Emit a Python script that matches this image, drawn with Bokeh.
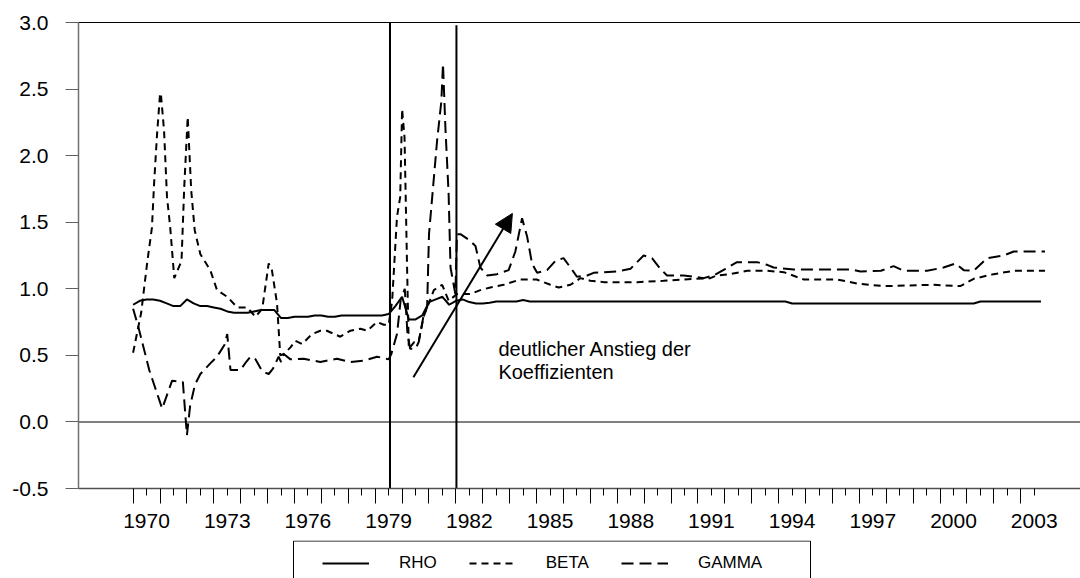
from bokeh.plotting import figure
from bokeh.layouts import column
from bokeh.models import (FixedTicker, LinearAxis, Range1d, Arrow, NormalHead,
                          Legend, LegendItem)
from bokeh.core.properties import value
from bokeh.embed import file_html
from bokeh.resources import INLINE

FONT = "Liberation Sans"

# ---------------- data ----------------
# RHO: quarterly, 1970Q1 .. 2003Q4
rho_v = [
    0.88, 0.91, 0.92, 0.92,   # 1970
    0.91, 0.89, 0.87, 0.87,   # 1971
    0.92, 0.89, 0.87, 0.87,   # 1972
    0.86, 0.85, 0.83, 0.82,   # 1973
    0.82, 0.82, 0.83, 0.84,   # 1974
    0.84, 0.84, 0.78, 0.78,   # 1975
    0.79, 0.79, 0.79, 0.80,   # 1976
    0.80, 0.79, 0.79, 0.80,   # 1977
    0.80, 0.80, 0.80, 0.80,   # 1978
    0.80, 0.80, 0.81, 0.87,   # 1979
    0.94, 0.77, 0.77, 0.80,   # 1980
    0.90, 0.92, 0.94, 0.88,   # 1981
    0.91, 0.92, 0.90, 0.89,   # 1982
    0.89, 0.895, 0.905, 0.905,  # 1983
    0.905, 0.905, 0.915, 0.905,  # 1984
    0.905, 0.905, 0.905, 0.905,  # 1985
    0.905, 0.905, 0.905, 0.905,  # 1986
    0.905, 0.905, 0.905, 0.905,  # 1987
    0.905, 0.905, 0.905, 0.905,  # 1988
    0.905, 0.905, 0.905, 0.905,  # 1989
    0.905, 0.905, 0.905, 0.905,  # 1990
    0.905, 0.905, 0.905, 0.905,  # 1991
    0.905, 0.905, 0.905, 0.905,  # 1992
    0.905, 0.905, 0.905, 0.905,  # 1993
    0.905, 0.905, 0.89, 0.89,    # 1994
    0.89, 0.89, 0.89, 0.89,      # 1995
    0.89, 0.89, 0.89, 0.89,      # 1996
    0.89, 0.89, 0.89, 0.89,      # 1997
    0.89, 0.89, 0.89, 0.89,      # 1998
    0.89, 0.89, 0.89, 0.89,      # 1999
    0.89, 0.89, 0.89, 0.89,      # 2000
    0.89, 0.89, 0.905, 0.905,    # 2001
    0.905, 0.905, 0.905, 0.905,  # 2002
    0.905, 0.905, 0.905, 0.905,  # 2003
]
rho_t = [1970 + i / 4 for i in range(len(rho_v))]

beta_t = [1970.00, 1970.30, 1970.52, 1970.70, 1970.78, 1970.89, 1971.00, 1971.03,
          1971.15, 1971.26, 1971.38, 1971.53, 1971.80, 1971.90, 1972.03, 1972.16,
          1972.29, 1972.50, 1972.87, 1973.12, 1973.50, 1973.87, 1974.24, 1974.55,
          1974.80, 1975.04, 1975.16, 1975.35, 1975.47, 1975.60, 1975.85, 1976.03,
          1976.28, 1976.65, 1976.96, 1977.20, 1977.70, 1978.08, 1978.45, 1978.70,
          1979.07, 1979.32, 1979.50, 1979.63, 1979.81, 1979.93, 1980.00, 1980.09,
          1980.19, 1980.25, 1980.45, 1980.62, 1980.80, 1981.18, 1981.49, 1981.73,
          1982.04, 1982.54, 1982.91, 1983.28, 1983.78, 1984.40, 1985.00, 1985.51,
          1985.82, 1986.26, 1986.63, 1987.00, 1987.50, 1988.74, 1989.72, 1990.47,
          1991.46, 1991.70, 1992.20, 1992.83, 1993.57, 1994.19, 1994.93, 1996.17,
          1996.91, 1997.90, 1999.76, 2000.75, 2001.25, 2001.99, 2002.74, 2003.90]
beta_v = [0.52, 0.82, 1.19, 1.46, 1.79, 2.16, 2.46, 2.47,
          2.19, 1.69, 1.46, 1.08, 1.21, 1.76, 2.29, 1.74,
          1.44, 1.26, 1.14, 0.99, 0.94, 0.86, 0.86, 0.79,
          0.85, 1.19, 1.14, 0.89, 0.50, 0.51, 0.56, 0.61,
          0.585, 0.66, 0.685, 0.685, 0.64, 0.685, 0.70, 0.685,
          0.75, 0.73, 0.73, 0.91, 1.54, 1.69, 2.35, 2.14,
          1.11, 0.55, 0.60, 0.61, 0.79, 0.99, 1.03, 0.91,
          0.96, 0.96, 0.99, 1.01, 1.03, 1.07, 1.07, 1.03,
          1.01, 1.03, 1.08, 1.06, 1.05, 1.05, 1.06, 1.07,
          1.08, 1.10, 1.11, 1.135, 1.135, 1.125, 1.07, 1.07,
          1.04, 1.02, 1.03, 1.02, 1.075, 1.11, 1.135, 1.135]

gamma_t = [1970.00, 1970.20, 1970.60, 1971.08, 1971.45, 1971.85, 1972.00, 1972.12,
           1972.30, 1972.50, 1972.87, 1973.12, 1973.40, 1973.50, 1973.62, 1973.99,
           1974.20, 1974.36, 1974.55, 1974.80, 1975.04, 1975.20, 1975.41, 1975.50,
           1975.60, 1975.85, 1976.34, 1976.96, 1977.58, 1978.08, 1978.58, 1979.07,
           1979.50, 1979.60, 1979.81, 1979.95, 1980.10, 1980.20, 1980.30, 1980.50,
           1980.62, 1980.80, 1980.93, 1981.00, 1981.30, 1981.46, 1981.52, 1981.61,
           1981.73, 1981.80, 1981.98, 1982.04, 1982.17, 1982.54, 1982.73, 1982.91,
           1983.16, 1983.53, 1983.96, 1984.21, 1984.46, 1984.65, 1984.83, 1985.02,
           1985.39, 1985.70, 1986.00, 1986.26, 1986.50, 1986.88, 1987.12, 1987.99,
           1988.49, 1988.98, 1989.29, 1989.60, 1989.85, 1990.47, 1991.21, 1991.58,
           1992.02, 1992.45, 1993.20, 1993.57, 1993.81, 1994.56, 1996.67, 1997.04,
           1997.80, 1998.27, 1998.65, 1999.52, 2000.13, 2000.57, 2000.88, 2001.25,
           2001.75, 2002.36, 2002.74, 2003.90]
gamma_v = [0.85, 0.71, 0.39, 0.10, 0.31, 0.30, -0.10, 0.12,
           0.28, 0.36, 0.44, 0.49, 0.58, 0.66, 0.39, 0.39,
           0.45, 0.49, 0.47, 0.38, 0.36, 0.40, 0.49, 0.45,
           0.51, 0.47, 0.475, 0.45, 0.475, 0.45, 0.46, 0.49,
           0.47, 0.51, 0.66, 0.92, 1.00, 0.66, 0.55, 0.55,
           0.60, 0.80, 0.86, 1.41, 2.11, 2.41, 2.69, 2.21,
           1.71, 1.16, 0.96, 1.41, 1.41, 1.36, 1.32, 1.16,
           1.10, 1.11, 1.14, 1.28, 1.53, 1.39, 1.19, 1.12,
           1.14, 1.21, 1.23, 1.16, 1.09, 1.10, 1.12, 1.13,
           1.15, 1.25, 1.23, 1.15, 1.10, 1.10, 1.08, 1.10,
           1.15, 1.20, 1.20, 1.18, 1.16, 1.145, 1.145, 1.13,
           1.135, 1.17, 1.135, 1.135, 1.16, 1.19, 1.14, 1.135,
           1.23, 1.25, 1.28, 1.28]

event_years = [1979.55, 1982.02]
event_tops = [3.0, 2.98]

x_label_years = [1970, 1973, 1976, 1979, 1982, 1985, 1988, 1991, 1994, 1997, 2000, 2003]
y_ticks = [-0.5, 0.0, 0.5, 1.0, 1.5, 2.0, 2.5, 3.0]
y_labels = ["-0.5", "0.0", "0.5", "1.0", "1.5", "2.0", "2.5", "3.0"]
series_names = ["RHO", "BETA", "GAMMA"]
anno_lines = ["deutlicher Anstieg der", "Koeffizienten"]

# ---------------- main figure ----------------
X0, X1 = 1967.97, 2005.22
p = figure(width=1080, height=540, output_backend="svg", toolbar_location=None,
           x_range=Range1d(X0, X1), y_range=Range1d(-0.5, 3.0),
           min_border_left=78, min_border_right=0, min_border_top=22,
           min_border_bottom=52)
p.outline_line_color = None
p.grid.grid_line_color = None
p.background_fill_color = "white"
p.border_fill_color = "white"

# x axis: long ticks at year starts, short ticks at mid-year, labels every 3 years
half_years = [y + 0.5 for y in range(1970, 2004)]
full_years = list(range(1970, 2004))
xa = p.xaxis[0]
xa.ticker = FixedTicker(ticks=half_years, minor_ticks=full_years)
xa.major_label_overrides = {h: (str(int(h)) if int(h) in x_label_years else "") for h in half_years}
xa.major_tick_in = 0
xa.major_tick_out = 7
xa.minor_tick_in = 0
xa.minor_tick_out = 15
xa.major_tick_line_color = "black"
xa.minor_tick_line_color = "black"
xa.axis_line_color = "#505050"
xa.axis_line_width = 1.5
xa.major_label_text_font = FONT
xa.major_label_text_font_size = "21px"
xa.major_label_text_color = "black"
xa.major_label_standoff = 10

ya = p.yaxis[0]
ya.ticker = FixedTicker(ticks=y_ticks, minor_ticks=[])
ya.major_label_overrides = {t: l for t, l in zip(y_ticks, y_labels)}
ya.major_tick_in = 0
ya.major_tick_out = 13
ya.major_tick_line_color = "#606060"
ya.axis_line_color = "#707070"
ya.axis_line_width = 1.5
ya.major_label_text_font = FONT
ya.major_label_text_font_size = "21px"
ya.major_label_text_color = "black"
ya.major_label_standoff = 17

top_axis = LinearAxis(ticker=FixedTicker(ticks=[], minor_ticks=[]),
                      major_label_text_font_size="0px",
                      axis_line_color="black", axis_line_width=1,
                      major_tick_line_color=None, minor_tick_line_color=None)
p.add_layout(top_axis, "above")

# zero line
p.line(x=[X0, X1], y=[0, 0], line_color="#808080", line_width=2)

# event lines
p.segment(x0=event_years, y0=[-0.5, -0.5], x1=event_years, y1=event_tops,
          line_color="black", line_width=2)

styles = [dict(line_color="black", line_width=2),
          dict(line_color="black", line_width=2, line_dash="7 5"),
          dict(line_color="black", line_width=2, line_dash="12 6")]

p.line(rho_t, rho_v, **styles[0])
p.line(beta_t, beta_v, **styles[1])
p.line(gamma_t, gamma_v, **styles[2])

# arrow + annotation text
p.add_layout(Arrow(end=NormalHead(size=18, fill_color="black", line_color="black"),
                   x_start=1980.42, y_start=0.335, x_end=1984.1, y_end=1.566,
                   line_color="black", line_width=2))
p.text(x=[1983.58, 1983.58], y=[0.545, 0.372], text=anno_lines,
       text_font=value(FONT), text_font_size="20px", text_color="black",
       text_baseline="alphabetic", text_align="left")

# ---------------- legend strip ----------------
# The column aligns this strip's frame with the main frame (x = 78 .. 1080),
# so its x range is given in window pixels.
p2 = figure(width=1080, height=38, output_backend="svg", toolbar_location=None,
            x_range=Range1d(78, 1080), y_range=Range1d(0, 38),
            min_border=0, x_axis_location=None, y_axis_location=None)
p2.outline_line_color = None
p2.grid.visible = False
p2.background_fill_color = "white"
p2.border_fill_color = "white"

# legend frame (bottom edge lies below the window, as in the reference)
p2.quad(left=[293], right=[810], top=[37.5], bottom=[-20],
        fill_color=None, line_color="black", line_width=1)

# the series again, far outside this strip's visible range: only their legend glyphs show
leg_renderers = [p2.line(x=t, y=v, **s) for t, v, s in
                 zip([rho_t, beta_t, gamma_t], [rho_v, beta_v, gamma_v], styles)]
legend = Legend(items=[LegendItem(label=n, renderers=[r])
                       for n, r in zip(series_names, leg_renderers)],
                orientation="horizontal", location=(322 - 78, 5),
                glyph_width=47, glyph_height=20, label_standoff=30, spacing=32,
                padding=0, margin=0,
                label_text_font=FONT, label_text_font_size="17px",
                label_text_color="black",
                border_line_color=None, background_fill_alpha=0)
p2.add_layout(legend, "center")

layout = column(p, p2, spacing=0)
open("out.html", "w").write(file_html(layout, INLINE))
